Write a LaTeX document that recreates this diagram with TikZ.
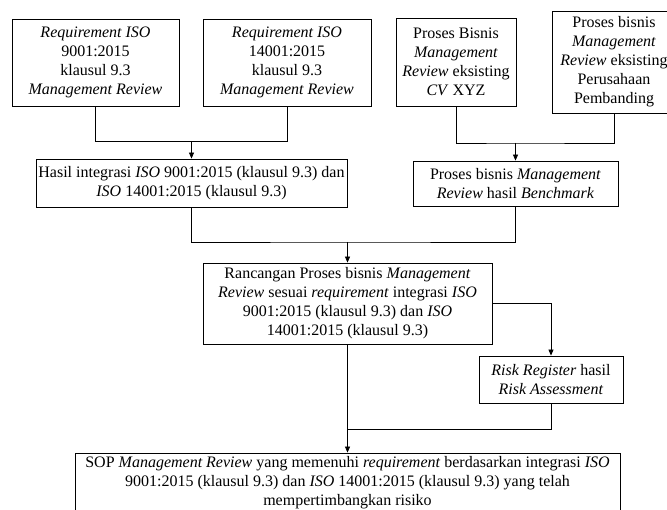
\documentclass[tikz,border=0pt]{standalone}
\usepackage{fontspec}
\setmainfont{Liberation Serif}
\usetikzlibrary{arrows.meta}
\begin{document}
\begin{tikzpicture}[x=1pt,y=-1pt,
  box/.style={draw, line width=0.8pt, inner sep=0pt, align=center,
    font=\fontsize{16}{19}\selectfont},
  link/.style={line width=0.8pt},
  arr/.style={line width=0.8pt, -{Triangle[length=6pt,width=5pt]}}]
\useasboundingbox (0,0) rectangle (667,510);
\node[box, minimum width=167pt, minimum height=87pt] (A) at (95.5,62.5)
  {\textit{Requirement ISO}\\9001:2015\\klausul 9.3\\\textit{Management Review}};
\node[box, minimum width=168pt, minimum height=87pt] (B) at (287,62.5)
  {\textit{Requirement ISO}\\14001:2015\\klausul 9.3\\\textit{Management Review}};
\node[box, minimum width=120pt, minimum height=88pt] (C) at (456,62)
  {Proses Bisnis\\\textit{Management}\\\textit{Review} eksisting\\\textit{CV} XYZ};
\node[box, minimum width=124pt, minimum height=102pt] (D) at (614,62)
  {Proses bisnis\\\textit{Management}\\\textit{Review} eksisting\\Perusahaan\\Pembanding};
\node[box, minimum width=311pt, minimum height=48pt] (E) at (191.5,183)
  {Hasil integrasi \textit{ISO} 9001:2015 (klausul 9.3) dan\\\textit{ISO} 14001:2015 (klausul 9.3)};
\node[box, minimum width=205pt, minimum height=45pt] (F) at (515.5,183.5)
  {Proses bisnis \textit{Management}\\\textit{Review} hasil \textit{Benchmark}};
\node[box, minimum width=289pt, minimum height=81pt] (G) at (347.5,303.5)
  {Rancangan Proses bisnis \textit{Management}\\\textit{Review} sesuai \textit{requirement} integrasi \textit{ISO}\\9001:2015 (klausul 9.3) dan \textit{ISO}\\14001:2015 (klausul 9.3)};
\node[box, minimum width=144pt, minimum height=47pt] (H) at (551,379.5)
  {\textit{Risk Register} hasil\\\textit{Risk Assessment}};
\node[box, minimum width=545pt, minimum height=59pt] (I) at (347.5,482.5)
  {SOP \textit{Management Review} yang memenuhi \textit{requirement} berdasarkan integrasi \textit{ISO}\\9001:2015 (klausul 9.3) dan \textit{ISO} 14001:2015 (klausul 9.3) yang telah\\mempertimbangkan risiko};
\coordinate (j1) at (191.5,141.5);
\coordinate (j2) at (515.5,143);
\coordinate (j3) at (347.5,242);
\coordinate (j4) at (347.5,429);
\draw[link] (A.south) |- (j1) -| (B.south);
\draw[arr] (j1) -- (j1 |- E.north);
\draw[link] (C.south) |- (j2) -| (D.south);
\draw[arr] (j2) -- (j2 |- F.north);
\draw[link] (E.south) |- (j3) -| (F.south);
\draw[arr] (j3) -- (j3 |- G.north);
\draw[arr] (G.east) -| (H.north);
\draw[link] (H.south) |- (j4);
\draw[arr] (G.south) -- (G.south |- I.north);
\end{tikzpicture}
\end{document}
